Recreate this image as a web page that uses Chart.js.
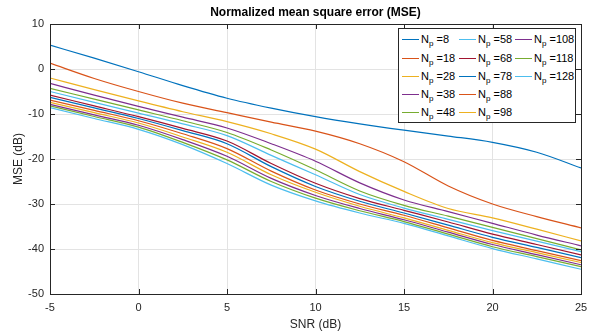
<!DOCTYPE html>
<html>
<head>
<meta charset="utf-8">
<script src="https://cdn.jsdelivr.net/npm/chart.js@4/dist/chart.umd.min.js"></script>
<style>
html,body{margin:0;padding:0;background:#fff;}
#wrap{position:relative;width:595px;height:335px;}
#legend{position:absolute;left:398px;top:28px;width:176px;height:93px;border:1px solid #262626;background:#fff;font-family:"Liberation Sans",Arial,sans-serif;font-size:11px;color:#000;}
.item{position:absolute;height:14px;white-space:nowrap;}
.item .ln{position:absolute;left:0;top:7px;width:17px;height:0;border-top:1.3px solid;}
.item .tx{position:absolute;left:19px;top:0;line-height:14px;}
.item sub{font-size:8px;vertical-align:-3px;line-height:0;}
</style>
</head>
<body>
<div id="wrap">
<canvas id="c" width="595" height="335"></canvas>
<div id="legend"></div>
</div>
<script>
// ---- data ----
const snrDb = [-5, -2.5, 0, 2.5, 5, 7.5, 10, 12.5, 15, 17.5, 20, 22.5, 25];
const pilotCounts = [8, 18, 28, 38, 48, 58, 68, 78, 88, 98, 108, 118, 128];
const mseNp8   = [5.3, 2.4, -0.6, -3.7, -6.5, -8.7, -10.6, -12.2, -13.6, -14.9, -16.3, -18.5, -22.0];
const mseNp18  = [1.3, -2.1, -5.0, -7.6, -9.7, -11.8, -13.8, -16.6, -20.6, -26.0, -30.0, -32.8, -35.3];
const mseNp28  = [-2.0, -4.6, -7.1, -9.5, -11.7, -14.4, -17.8, -22.8, -27.2, -31.0, -33.1, -35.6, -38.2];
const mseNp38  = [-3.2, -5.8, -8.3, -10.7, -13.1, -16.6, -20.5, -25.3, -29.1, -31.7, -34.3, -36.9, -39.3];
const mseNp48  = [-4.3, -6.7, -9.1, -11.5, -14.1, -18.0, -22.4, -27.1, -30.3, -32.7, -35.2, -37.7, -40.2];
const mseNp58  = [-5.0, -7.4, -9.8, -12.2, -14.8, -19.2, -23.5, -27.9, -30.9, -33.4, -35.9, -38.25, -40.6];
const mseNp68  = [-5.8, -8.2, -10.6, -13.2, -16.0, -21.0, -25.4, -28.8, -31.4, -34.0, -36.7, -39.0, -41.3];
const mseNp78  = [-6.3, -8.65, -11.0, -13.7, -16.6, -21.7, -26.1, -29.4, -32.0, -34.7, -37.4, -39.65, -41.9];
const mseNp88  = [-6.9, -9.2, -11.5, -14.4, -17.7, -22.7, -26.9, -30.0, -32.5, -35.3, -38.1, -40.35, -42.6];
const mseNp98  = [-7.4, -9.7, -12.0, -15.1, -18.5, -23.5, -27.4, -30.5, -33.1, -35.85, -38.6, -40.8, -43.0];
const mseNp108 = [-7.85, -10.2, -12.5, -15.7, -19.4, -24.3, -28.1, -31.0, -33.5, -36.25, -39.0, -41.25, -43.5];
const mseNp118 = [-8.2, -10.55, -12.9, -16.3, -20.2, -25.0, -28.7, -31.5, -33.9, -36.7, -39.5, -41.7, -43.9];
const mseNp128 = [-8.6, -11.0, -13.4, -16.8, -21.0, -25.8, -29.3, -32.0, -34.3, -37.1, -39.9, -42.2, -44.5];
const xTicks = [-5, 0, 5, 10, 15, 20, 25];
const yTicks = [-50, -40, -30, -20, -10, 0, 10];

// ---- styles ----
const palette = ['#0072BD', '#D95319', '#EDB120', '#7E2F8E', '#77AC30', '#4DBEEE', '#A2142F'];
const FONT = '"Liberation Sans", Arial, sans-serif';
const AX = '#262626';

const seriesValues = [mseNp8, mseNp18, mseNp28, mseNp38, mseNp48, mseNp58, mseNp68,
                      mseNp78, mseNp88, mseNp98, mseNp108, mseNp118, mseNp128];

const datasets = seriesValues.map((vals, i) => ({
  label: 'Np =' + pilotCounts[i],
  data: vals.map((v, j) => ({x: snrDb[j], y: v})),
  borderColor: palette[i % palette.length],
  backgroundColor: palette[i % palette.length],
  borderWidth: 1.2,
  pointRadius: 0,
  fill: false,
  cubicInterpolationMode: 'monotone'
}));

const boxPlugin = {
  id: 'matlabBox',
  afterDraw(chart) {
    const {ctx, chartArea: a, scales} = chart;
    ctx.save();
    ctx.strokeStyle = AX;
    ctx.lineWidth = 1;
    ctx.beginPath();
    xTicks.forEach(t => {
      const px = Math.round(scales.x.getPixelForValue(t)) + 0.5;
      ctx.moveTo(px, a.bottom); ctx.lineTo(px, a.bottom - 5);
      ctx.moveTo(px, a.top); ctx.lineTo(px, a.top + 5);
    });
    yTicks.forEach(t => {
      const py = Math.round(scales.y.getPixelForValue(t)) + 0.5;
      ctx.moveTo(a.left, py); ctx.lineTo(a.left + 5, py);
      ctx.moveTo(a.right, py); ctx.lineTo(a.right - 5, py);
    });
    ctx.stroke();
    ctx.strokeRect(Math.round(a.left) + 0.5, Math.round(a.top) + 0.5,
                   Math.round(a.right - a.left), Math.round(a.bottom - a.top));
    ctx.restore();
  }
};

const chart = new Chart(document.getElementById('c'), {
  type: 'line',
  data: {datasets},
  plugins: [boxPlugin],
  options: {
    responsive: false,
    animation: false,
    layout: {padding: {left: 0, right: 14, top: 0, bottom: 0}},
    plugins: {
      legend: {display: false},
      tooltip: {enabled: false},
      title: {
        display: true,
        text: 'Normalized mean square error (MSE)',
        color: '#000',
        fullSize: false,
        font: {family: FONT, size: 12, weight: 'bold', lineHeight: 1.2},
        padding: {top: 5, bottom: 4.6}
      }
    },
    scales: {
      x: {
        type: 'linear', min: -5, max: 25,
        afterBuildTicks: s => { s.ticks = xTicks.map(v => ({value: v})); },
        afterFit: s => { s.height = 41; },
        grid: {color: '#e3e3e3', drawTicks: false},
        border: {display: false},
        ticks: {color: AX, font: {family: FONT, size: 11}, padding: 7, maxRotation: 0},
        title: {display: true, text: 'SNR (dB)', color: AX, font: {family: FONT, size: 12, lineHeight: 1.2}, padding: {top: 0, bottom: 3}}
      },
      y: {
        type: 'linear', min: -50, max: 10,
        afterBuildTicks: s => { s.ticks = yTicks.map(v => ({value: v})); },
        afterFit: s => { s.width = 50; },
        grid: {color: '#e3e3e3', drawTicks: false},
        border: {display: false},
        ticks: {color: AX, font: {family: FONT, size: 11}, padding: 6},
        title: {display: true, text: 'MSE (dB)', color: AX, font: {family: FONT, size: 12, lineHeight: 1.2}, padding: {top: 11, bottom: 0}}
      }
    }
  }
});

// ---- legend (HTML so the subscript stays real text) ----
const legend = document.getElementById('legend');
const colX = [3, 60, 116];
const rowY = [3, 21.5, 40, 58, 76];
chart.data.datasets.forEach((ds, i) => {
  const col = Math.floor(i / 5), row = i % 5;
  const it = document.createElement('div');
  it.className = 'item';
  it.style.left = colX[col] + 'px';
  it.style.top = rowY[row] + 'px';
  it.innerHTML = '<span class="ln" style="border-color:' + ds.borderColor + '"></span>' +
                 '<span class="tx">N<sub>p</sub> =' + pilotCounts[i] + '</span>';
  legend.appendChild(it);
});
</script>
</body>
</html>
